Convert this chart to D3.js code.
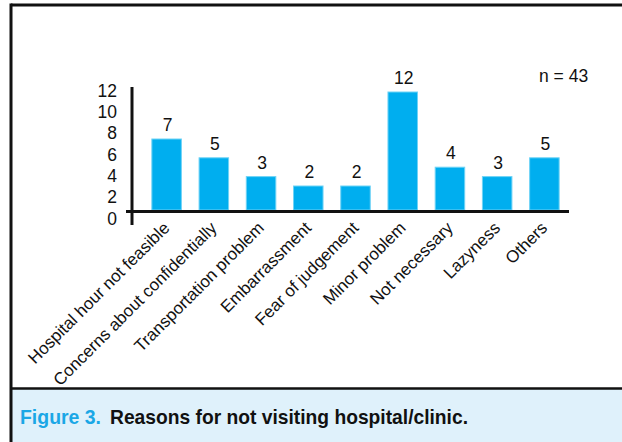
<!DOCTYPE html>
<html><head><meta charset="utf-8">
<script src="https://cdn.jsdelivr.net/npm/d3@7"></script>
<style>
html,body{margin:0;padding:0;background:#fff;}
svg{display:block;}
</style></head>
<body>
<svg id="c" width="622" height="442"></svg>
<script>
const categories = ["Hospital hour not feasible","Concerns about confidentially","Transportation problem","Embarrassment","Fear of judgement","Minor problem","Not necessary","Lazyness","Others"];
const values = [7,5,3,2,2,12,4,3,5];
const yTicks = [0,2,4,6,8,10,12];
const nLabel = "n = 43";
const captionLead = "Figure 3.";
const captionText = "Reasons for not visiting hospital/clinic.";

const svg = d3.select("#c");
const font = "'Liberation Sans', Arial, Helvetica, sans-serif";
const capFont = "'Liberation Sans Narrow', 'Liberation Sans', Arial, sans-serif";

// frame
svg.append("rect").attr("x",0).attr("y",0).attr("width",622).attr("height",442).attr("fill","#fff");
svg.append("rect").attr("x",12).attr("y",389).attr("width",610).attr("height",53).attr("fill","#dff1fb");
svg.append("line").attr("x1",11).attr("x2",622).attr("y1",5).attr("y2",5).attr("stroke","#111").attr("stroke-width",3);
svg.append("line").attr("x1",11).attr("x2",11).attr("y1",3.5).attr("y2",442).attr("stroke","#111").attr("stroke-width",3);
svg.append("line").attr("x1",11).attr("x2",622).attr("y1",388.5).attr("y2",388.5).attr("stroke","#111").attr("stroke-width",2.5);

// scales
const x = d3.scaleBand().domain(categories).range([143,568]).paddingInner(0.375).paddingOuter(0.1875);
const yBar = d3.scaleLinear().domain([0,12]).range([204.8,92]);
const baseY = 210;
const yLab = d3.scaleLinear().domain([0,12]).range([218,90]);

// bars
svg.append("g").selectAll("rect").data(values).join("rect")
  .attr("x",(d,i)=>x(categories[i]))
  .attr("width",x.bandwidth())
  .attr("y",d=>yBar(d))
  .attr("height",d=>baseY-yBar(d))
  .attr("fill","#00aeef")
  .attr("stroke","#6fd3f6")
  .attr("stroke-width",1);

// value labels
svg.append("g").selectAll("text").data(values).join("text")
  .attr("x",(d,i)=>x(categories[i])+x.bandwidth()/2+1)
  .attr("y",d=>yBar(d)-8)
  .attr("text-anchor","middle")
  .attr("font-family",font).attr("font-size",17.5).attr("fill","#111")
  .text(d=>d);

// y axis (labels only)
const yAxis = d3.axisLeft(yLab).tickValues(yTicks).tickSize(0).tickPadding(0);
const gy = svg.append("g").attr("transform","translate(117,0)").call(yAxis);
gy.select(".domain").remove();
gy.selectAll("text").attr("font-family",font).attr("font-size",17.5).attr("fill","#111").attr("dy","0.35em");

// axis lines
svg.append("line").attr("x1",132).attr("x2",132).attr("y1",87).attr("y2",225).attr("stroke","#111").attr("stroke-width",3);
svg.append("line").attr("x1",126).attr("x2",569).attr("y1",211.5).attr("y2",211.5).attr("stroke","#111").attr("stroke-width",3);

// x axis labels
const xAxis = d3.axisBottom(x).tickSize(0).tickPadding(0);
const gx = svg.append("g").attr("transform","translate(0,229)").call(xAxis);
gx.select(".domain").remove();
gx.selectAll("text")
  .attr("font-family",font).attr("font-size",17).attr("fill","#111")
  .attr("text-anchor","end").attr("dy","0").attr("y",0).attr("x",0)
  .attr("transform","translate(4,0) rotate(-45)");

// n label
svg.append("text").attr("x",539).attr("y",82).attr("font-family",font).attr("font-size",17.5).attr("fill","#111").text(nLabel);

// caption
svg.append("text").attr("x",20).attr("y",424).attr("font-family",capFont).attr("font-size",21).attr("font-weight","bold")
  .attr("fill","#1aa7e6").attr("textLength",81).attr("lengthAdjust","spacingAndGlyphs").text(captionLead);
svg.append("text").attr("x",110).attr("y",424).attr("font-family",capFont).attr("font-size",21).attr("font-weight","bold")
  .attr("fill","#111").attr("textLength",358).attr("lengthAdjust","spacingAndGlyphs").text(captionText);
</script>
</body></html>
